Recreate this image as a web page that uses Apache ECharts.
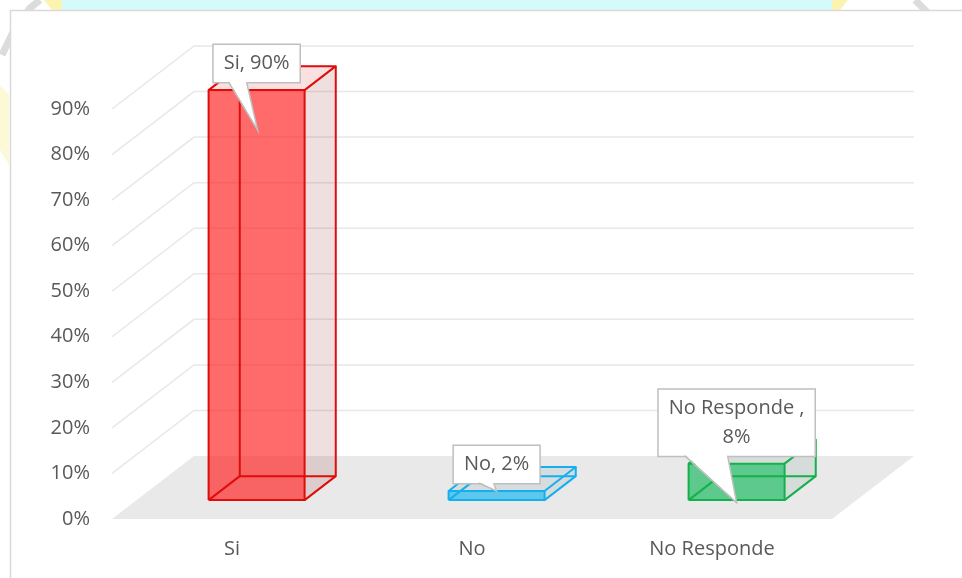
<!DOCTYPE html>
<html><head><meta charset="utf-8">
<script src="https://cdn.jsdelivr.net/npm/echarts@6/dist/echarts.min.js"></script>
<style>html,body{margin:0;padding:0;background:#fff}#c{width:962px;height:578px}</style>
</head><body><div id="c"></div>
<script>
// ---- data ----
const categories = ['Si', 'No', 'No Responde'];
const values = [0.90, 0.02, 0.08];
const labelTexts = ['Si, 90%', 'No, 2%', 'No Responde ,\n8%'];
const yTicks = [0.1, 0.2, 0.3, 0.4, 0.5, 0.6, 0.7, 0.8, 0.9];

// ---- styles / layout ----
const FONT = "'Open Sans', 'Noto Sans', sans-serif";
const DX = 82, DY = -63;          // full depth vector of the 3D floor
const D1 = 0.30, D2 = 0.68;       // bar front/back depth fractions
const BAR_FRAC = 0.40;
const barStyles = [
  {front: 'rgba(255,30,30,0.66)', side: 'rgba(150,40,40,0.15)', top: 'rgba(230,60,60,0.16)', edge: '#e00b0b'},
  {front: 'rgba(0,176,240,0.60)', side: 'rgba(0,70,90,0.08)', top: 'rgba(0,80,110,0.08)', edge: '#14b0ee'},
  {front: 'rgba(0,180,80,0.60)', side: 'rgba(0,80,50,0.08)', top: 'rgba(0,90,50,0.08)', edge: '#14b04c'}
];
const TAILS = [
  {base: [-28, -10], tip: [1, 40]},
  {base: [-18, -3], tip: [0, 0]},
  {base: [-52, -9], tip: [0, 39]}
];

function renderFloor(params, api) {
  const cs = params.coordSys;
  const y0 = api.coord([0, 0])[1];
  const x0 = cs.x, x1 = cs.x + cs.width;
  return {type: 'polygon', silent: true,
    shape: {points: [[x0, y0], [x1, y0], [x1 + DX, y0 + DY], [x0 + DX, y0 + DY]]},
    style: {fill: '#e9e9e9'}};
}
function renderGrid(params, api) {
  const cs = params.coordSys;
  const y = api.coord([0, api.value(1)])[1];
  const x0 = cs.x, x1 = cs.x + cs.width;
  return {type: 'polyline', silent: true,
    shape: {points: [[x0, y], [x0 + DX, y + DY], [x1 + DX, y + DY]]},
    style: {stroke: '#e8e8e8', lineWidth: 1.5, fill: null}};
}
function renderBar(params, api) {
  const i = params.dataIndex;
  const st = barStyles[i];
  const base = api.coord([api.value(0), 0]);
  const top = api.coord([api.value(0), api.value(1)]);
  const bw = api.size([1, 0])[0] * BAR_FRAC;
  const P = (sx, y, d) => [base[0] + sx * bw / 2 + d * DX, y + d * DY];
  const y0 = base[1], y1 = top[1];
  const FBL = P(-1, y0, D1), FBR = P(1, y0, D1), FTL = P(-1, y1, D1), FTR = P(1, y1, D1);
  const BBL = P(-1, y0, D2), BBR = P(1, y0, D2), BTL = P(-1, y1, D2), BTR = P(1, y1, D2);
  const line = (pts) => ({type: 'polyline', shape: {points: pts}, style: {stroke: st.edge, lineWidth: 2, fill: null, lineJoin: 'round'}});
  return {type: 'group', children: [
    {type: 'polygon', shape: {points: [FBR, BBR, BTR, FTR]}, style: {fill: st.side}},
    {type: 'polygon', shape: {points: [FTL, FTR, BTR, BTL]}, style: {fill: st.top}},
    {type: 'polygon', shape: {points: [FBL, FBR, FTR, FTL]}, style: {fill: st.front}},
    line([FBL, BBL, BBR]),
    line([BBL, BTL]),
    line([FBL, FBR, FTR, FTL, FBL]),
    line([FTL, BTL, BTR, FTR]),
    line([FBR, BBR, BTR])
  ]};
}
function renderCallout(params, api) {
  const i = params.dataIndex;
  const base = api.coord([api.value(0), 0]);
  const top = api.coord([api.value(0), api.value(1)]);
  const fx = base[0] + D1 * DX, fy = top[1] + D1 * DY;
  const by = fy - 8;
  const t = TAILS[i];
  const tip = [fx + t.tip[0], fy + t.tip[1]];
  return {type: 'group', children: [
    {type: 'text', x: fx, y: by, style: {text: labelTexts[i], fontSize: 20, fontFamily: FONT, fill: '#595959',
      align: 'center', verticalAlign: 'bottom', backgroundColor: '#fff', borderColor: '#bfbfbf', borderWidth: 1.5,
      padding: [4, 10], lineHeight: 29}},
    {type: 'polygon', shape: {points: [[fx + t.base[0], by - 1.5], [fx + t.base[1], by - 1.5], tip]}, style: {fill: '#fff'}},
    {type: 'polyline', shape: {points: [[fx + t.base[0], by], tip, [fx + t.base[1], by]]}, style: {stroke: '#bfbfbf', lineWidth: 1.5, fill: null}}
  ]};
}

const chart = echarts.init(document.getElementById('c'), null, {renderer: 'canvas'});
chart.setOption({
  animation: false,
  backgroundColor: '#ffffff',
  graphic: [
    {type: 'rect', z: -5, shape: {x: 62, y: 0, width: 770, height: 10}, style: {fill: '#d5fafa'}},
    {type: 'polygon', z: -5, shape: {points: [[44, 0], [62, 0], [62, 10], [52, 10]]}, style: {fill: '#fbf3b0'}},
    {type: 'polygon', z: -5, shape: {points: [[832, 0], [848, 0], [840, 10], [832, 10]]}, style: {fill: '#fbf3b0'}},
    {type: 'polygon', z: -5, shape: {points: [[0, 85], [9, 95], [9, 165], [0, 150]]}, style: {fill: '#fdf8d6'}},
    {type: 'polyline', z: -5, shape: {points: [[2, 55], [14, 30], [30, 8], [40, 0]]}, style: {stroke: '#dcdcdc', lineWidth: 7, fill: null}},
    {type: 'polyline', z: -5, shape: {points: [[915, 0], [935, 20], [952, 38]]}, style: {stroke: '#dcdcdc', lineWidth: 7, fill: null}},
    {type: 'rect', z: -4, shape: {x: 10.5, y: 10.5, width: 980, height: 600}, style: {fill: '#fff', stroke: '#d9d9d9', lineWidth: 1.5}}
  ],
  grid: {left: 112, right: 130, top: 109, bottom: 59},
  xAxis: {
    type: 'category', data: categories, boundaryGap: true,
    axisLine: {show: false}, axisTick: {show: false}, splitLine: {show: false},
    axisLabel: {fontSize: 20, fontFamily: FONT, color: '#595959', margin: 20}
  },
  yAxis: {
    type: 'value', min: 0, max: 0.9, interval: 0.1,
    axisLine: {show: false}, axisTick: {show: false}, splitLine: {show: false},
    axisLabel: {fontSize: 20, fontFamily: FONT, color: '#595959', margin: 22,
      formatter: v => Math.round(v * 100) + '%'}
  },
  series: [
    {type: 'custom', clip: false, silent: true, renderItem: renderFloor, data: [[0, 0]], z: 1},
    {type: 'custom', clip: false, silent: true, renderItem: renderGrid, data: yTicks.map(v => [0, v]), z: 1},
    {type: 'custom', clip: false, silent: true, renderItem: renderBar, data: values.map((v, i) => [i, v]), z: 3},
    {type: 'custom', clip: false, silent: true, renderItem: renderCallout, data: values.map((v, i) => [i, v]), z: 5}
  ]
});
</script></body></html>
